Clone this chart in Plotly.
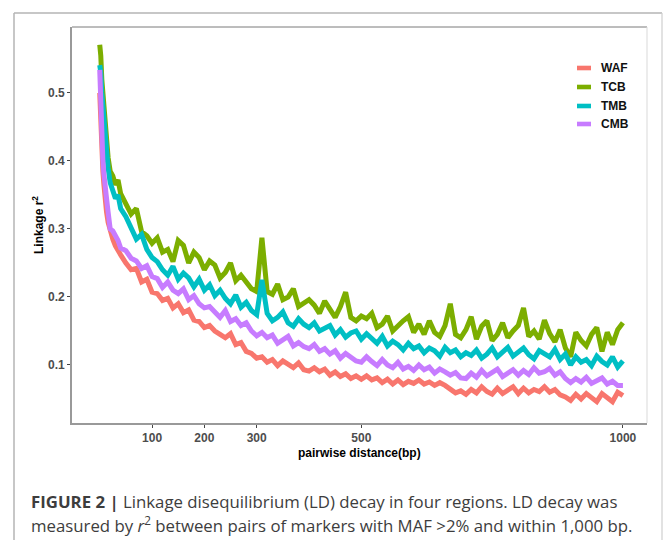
import plotly.graph_objects as go

# ---------------- data ----------------
distance = [0, 2, 4, 6, 8, 10, 13, 16, 20, 25, 30, 35, 40,
            50, 60, 70, 80, 90, 100,
            110, 120, 130, 140, 150, 160, 170, 180, 190, 200,
            210, 220, 230, 240, 250, 260, 270, 280, 290, 300,
            310, 320, 330, 340, 350, 360, 370, 380, 390, 400,
            410, 420, 430, 440, 450, 460, 470, 480, 490, 500,
            510, 520, 530, 540, 550, 560, 570, 580, 590, 600,
            610, 620, 630, 640, 650, 660, 670, 680, 690, 700,
            710, 720, 730, 740, 750, 760, 770, 780, 790, 800,
            810, 820, 830, 840, 850, 860, 870, 880, 890, 900,
            910, 920, 930, 940, 950, 960, 970, 980, 990, 1000]

waf = [0.50, 0.45, 0.415, 0.385, 0.365, 0.345, 0.325, 0.31, 0.295, 0.285, 0.275, 0.27, 0.262,
       0.25, 0.24, 0.242, 0.222, 0.226, 0.207,
       0.205, 0.195, 0.198, 0.184, 0.19, 0.177, 0.181, 0.166, 0.164, 0.155,
       0.158, 0.15, 0.145, 0.14, 0.146, 0.13, 0.133, 0.12, 0.117, 0.11,
       0.112, 0.104, 0.108, 0.099, 0.106, 0.10, 0.096, 0.103, 0.093, 0.091,
       0.096, 0.09, 0.094, 0.085, 0.09, 0.083, 0.087, 0.08, 0.084, 0.079,
       0.084, 0.078, 0.081, 0.074, 0.079, 0.072, 0.078, 0.071, 0.076, 0.073,
       0.078, 0.072, 0.075, 0.07, 0.074, 0.07, 0.064, 0.059, 0.062, 0.057,
       0.064, 0.059, 0.068, 0.061, 0.057, 0.066, 0.058, 0.063, 0.068, 0.058,
       0.066, 0.059, 0.064, 0.061, 0.068, 0.06, 0.064, 0.056, 0.053, 0.048,
       0.057, 0.05, 0.058, 0.052, 0.046, 0.058, 0.052, 0.046, 0.06, 0.055]

tcb = [0.571, 0.555, 0.52, 0.50, 0.48, 0.455, 0.42, 0.405, 0.385, 0.378, 0.365, 0.372, 0.352,
       0.335, 0.322, 0.33, 0.296, 0.29, 0.279,
       0.287, 0.266, 0.27, 0.252, 0.283, 0.276, 0.25, 0.266, 0.258, 0.24,
       0.253, 0.247, 0.228, 0.236, 0.25, 0.224, 0.232, 0.222, 0.212, 0.208,
       0.287, 0.208, 0.204, 0.219, 0.196, 0.20, 0.212, 0.186, 0.19, 0.196,
       0.188, 0.176, 0.194, 0.183, 0.17, 0.186, 0.207, 0.17, 0.165, 0.172,
       0.168, 0.176, 0.155, 0.16, 0.172, 0.15, 0.158, 0.165, 0.171, 0.148,
       0.16, 0.145, 0.165, 0.148, 0.142, 0.158, 0.19, 0.145, 0.14, 0.152,
       0.171, 0.138, 0.157, 0.165, 0.136, 0.145, 0.162, 0.14, 0.15, 0.158,
       0.184, 0.142, 0.15, 0.138, 0.166, 0.146, 0.134, 0.152, 0.125, 0.112,
       0.148, 0.136, 0.128, 0.145, 0.155, 0.12, 0.148, 0.13, 0.152, 0.162]

tmb = [0.541, 0.53, 0.50, 0.478, 0.455, 0.43, 0.41, 0.39, 0.368, 0.355, 0.345, 0.35, 0.33,
       0.318, 0.302, 0.285, 0.292, 0.27, 0.258,
       0.252, 0.24, 0.232, 0.245, 0.226, 0.235, 0.228, 0.215, 0.226, 0.21,
       0.218, 0.202, 0.21, 0.198, 0.19, 0.203, 0.185, 0.192, 0.18, 0.174,
       0.225, 0.176, 0.165, 0.17, 0.178, 0.162, 0.157, 0.168, 0.16, 0.155,
       0.162, 0.15, 0.155, 0.158, 0.144, 0.152, 0.141, 0.147, 0.15, 0.138,
       0.146, 0.138, 0.132, 0.142, 0.128, 0.135, 0.13, 0.122, 0.132, 0.124,
       0.128, 0.118, 0.125, 0.121, 0.113, 0.126, 0.118, 0.122, 0.112, 0.118,
       0.114, 0.122, 0.11, 0.116, 0.125, 0.112, 0.119, 0.126, 0.113, 0.118,
       0.125, 0.115, 0.109, 0.121, 0.117, 0.112, 0.123, 0.108, 0.116, 0.10,
       0.112, 0.104, 0.108, 0.099, 0.113, 0.105, 0.10, 0.112, 0.097, 0.106]

cmb = [0.534, 0.46, 0.43, 0.40, 0.38, 0.36, 0.345, 0.325, 0.30, 0.297, 0.29, 0.283, 0.272,
       0.268, 0.257, 0.253, 0.242, 0.246, 0.23,
       0.227, 0.214, 0.222, 0.21, 0.205, 0.212, 0.196, 0.202, 0.19, 0.184,
       0.186, 0.178, 0.17, 0.18, 0.164, 0.168, 0.158, 0.162, 0.15, 0.143,
       0.148, 0.14, 0.144, 0.132, 0.138, 0.142, 0.128, 0.133, 0.127, 0.124,
       0.13, 0.12, 0.124, 0.116, 0.121, 0.11, 0.117, 0.112, 0.106, 0.104,
       0.112, 0.105, 0.099, 0.108, 0.10, 0.096, 0.104, 0.094, 0.098, 0.092,
       0.10, 0.093, 0.097, 0.088, 0.094, 0.09, 0.085, 0.089, 0.081, 0.08,
       0.088, 0.082, 0.092, 0.084, 0.089, 0.094, 0.083, 0.088, 0.093, 0.085,
       0.092, 0.086, 0.096, 0.088, 0.09, 0.095, 0.085, 0.09, 0.08, 0.074,
       0.08, 0.075, 0.082, 0.073, 0.078, 0.081, 0.072, 0.076, 0.07, 0.07]

series_names = ["WAF", "TCB", "TMB", "CMB"]
series_values = [waf, tcb, tmb, cmb]
series_colors = ["#F8766D", "#7CAE00", "#00BFC4", "#C77CFF"]

x_tick_vals = [100, 200, 300, 500, 1000]
y_tick_vals = [0.1, 0.2, 0.3, 0.4, 0.5]
y_tick_text = ["0.1", "0.2", "0.3", "0.4", "0.5"]

# ---------------- figure ----------------
FONT = "Liberation Sans, Arial, Helvetica, sans-serif"
CAP_FONT = "Open Sans, Liberation Sans, sans-serif"
W, H = 665, 540
L, R, T, B = 72, 647, 27, 423
pw, ph = R - L, B - T


def px(xp):
    return (xp - L) / pw


def py(yp):
    return (B - yp) / ph


fig = go.Figure()
for name, vals, col in zip(series_names, series_values, series_colors):
    fig.add_trace(go.Scatter(x=distance, y=vals, mode="lines", name=name,
                             line=dict(color=col, width=5), showlegend=False))

shapes = []
frame_col = "#b5b5b5"
shapes.append(dict(type="line", xref="paper", yref="paper", x0=px(14), x1=px(662), y0=py(13), y1=py(13),
                   line=dict(color=frame_col, width=1.5)))
shapes.append(dict(type="line", xref="paper", yref="paper", x0=px(14), x1=px(14), y0=py(13), y1=py(560),
                   line=dict(color=frame_col, width=1.5)))
shapes.append(dict(type="line", xref="paper", yref="paper", x0=px(662), x1=px(662), y0=py(13), y1=py(560),
                   line=dict(color="#cfcfcf", width=1.2)))
shapes.append(dict(type="line", xref="paper", yref="paper", x0=0, x1=1, y0=1, y1=1,
                   line=dict(color="#7a7a7a", width=1)))
shapes.append(dict(type="line", xref="paper", yref="paper", x0=1, x1=1, y0=0, y1=1,
                   line=dict(color="#d9d9d9", width=1)))

annotations = []
leg_rows = [68, 87, 106, 124]
for name, col, yr in zip(series_names, series_colors, leg_rows):
    shapes.append(dict(type="line", xref="paper", yref="paper", x0=px(577), x1=px(591), y0=py(yr), y1=py(yr),
                       line=dict(color=col, width=4.6)))
    annotations.append(dict(xref="paper", yref="paper", x=px(599), y=py(yr), text=name, showarrow=False,
                            xanchor="left", yanchor="middle",
                            font=dict(family=FONT, size=12, color="#111111", weight="bold")))

annotations.append(dict(xref="paper", yref="paper", x=0.5, y=py(453), text="pairwise distance(bp)",
                        showarrow=False, xanchor="center", yanchor="middle",
                        font=dict(family=FONT, size=12, color="#000000", weight="bold")))
annotations.append(dict(xref="paper", yref="paper", x=px(38), y=py(225), text="Linkage r<sup>2</sup>",
                        showarrow=False, xanchor="center", yanchor="middle", textangle=-90,
                        font=dict(family=FONT, size=12, color="#000000", weight="bold")))

annotations.append(dict(xref="paper", yref="paper", x=px(29), y=py(501),
                        text="<b>FIGURE 2 |</b> Linkage disequilibrium (LD) decay in four regions. LD decay was",
                        showarrow=False, xanchor="left", yanchor="middle",
                        font=dict(family=CAP_FONT, size=16.8, color="#3d3d3d")))
annotations.append(dict(xref="paper", yref="paper", x=px(29), y=py(524),
                        text="measured by <i>r</i><sup>2</sup> between pairs of markers with MAF >2% and within 1,000 bp.",
                        showarrow=False, xanchor="left", yanchor="middle",
                        font=dict(family=CAP_FONT, size=16.8, color="#3d3d3d")))

fig.update_layout(
    width=W, height=H,
    margin=dict(l=L, r=W - R, t=T, b=H - B, pad=0),
    paper_bgcolor="white", plot_bgcolor="white",
    shapes=shapes, annotations=annotations,
    showlegend=False,
    xaxis=dict(range=[-53, 1046], tickvals=x_tick_vals, showgrid=False, zeroline=False,
               showline=True, linecolor="#999999", linewidth=1.6,
               ticks="outside", ticklen=3, tickwidth=1, tickcolor="#444444",
               tickfont=dict(family=FONT, size=12, color="#4d4d4d", weight="bold")),
    yaxis=dict(range=[0.0147, 0.597], tickvals=y_tick_vals, ticktext=y_tick_text, showgrid=False,
               zeroline=False, showline=True, linecolor="#999999", linewidth=1.6,
               ticks="outside", ticklen=3, tickwidth=1, tickcolor="#444444",
               tickfont=dict(family=FONT, size=12, color="#4d4d4d", weight="bold")),
)

fig.write_html("out.html")
